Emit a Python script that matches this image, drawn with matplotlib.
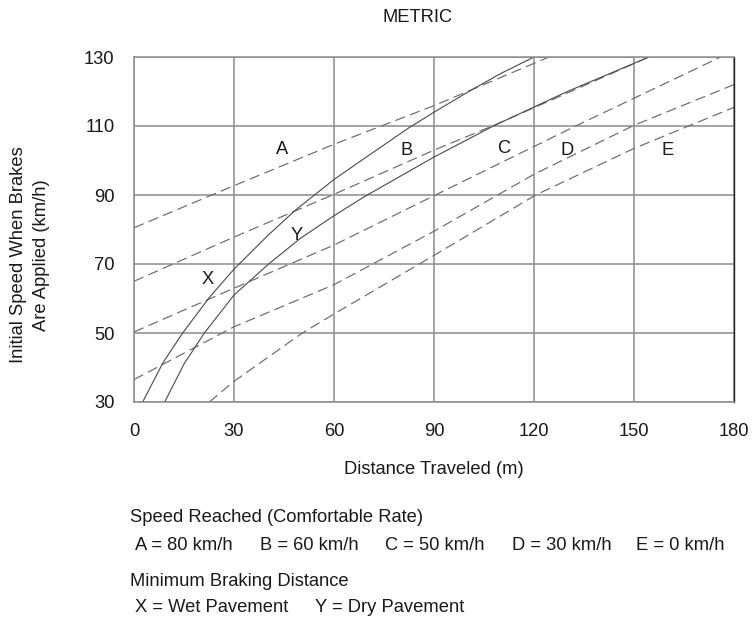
import numpy as np
import matplotlib
matplotlib.use('Agg')
import matplotlib.pyplot as plt

plt.rcParams['font.family'] = ['Liberation Sans', 'DejaVu Sans']
plt.rcParams['lines.scale_dashes'] = False

# dashed lines: speed reached (comfortable rate)
A_d = [0, 30, 60, 90, 124.5]
A_v = [80.5, 92.7, 104.7, 115.9, 130]
B_d = [0, 30, 60, 90, 108, 154.5]
B_v = [65, 77.8, 90.2, 103, 110.2, 130]
C_d = [0, 30, 60, 90, 132.5, 176]
C_v = [50.3, 63, 75.5, 89.8, 110, 130]
D_d = [0, 30, 60, 90, 120, 150, 180]
D_v = [36.5, 51.8, 64, 79.5, 96, 110.2, 122]
E_d = [22.6, 30, 50.5, 60, 90, 120.5, 150, 180]
E_v = [30, 36, 50, 55.5, 72.5, 90, 103.5, 115.4]

# solid curves: minimum braking distance
X_d = [2.6, 8.7, 14.6, 22.6, 30, 40.4, 48.3, 60, 70, 82.5, 90, 100.8, 110, 120]
X_v = [30, 41.4, 50, 60.3, 68.5, 78.5, 85.5, 94.5, 101.2, 109.5, 114, 120.2, 125.2, 130]
Y_d = [9.2, 15, 21.1, 30, 40.4, 50, 60, 69.1, 80, 90, 107.8, 130, 154.5]
Y_v = [30, 41, 50, 61, 70, 77.5, 84, 89.5, 95.5, 101, 110, 120, 130]

# curve letters and where they sit
letters = ['A', 'B', 'C', 'D', 'E', 'X', 'Y']
letter_d = [44.3, 81.7, 111, 130, 160, 22, 48.7]
letter_v = [103.2, 103, 103.5, 103, 103, 65.5, 78.4]

x_ticks = [0, 30, 60, 90, 120, 150, 180]
y_ticks = [30, 50, 70, 90, 110, 130]

speed_title = 'Speed Reached (Comfortable Rate)'
speed_labels = ['A = 80 km/h', 'B = 60 km/h', 'C = 50 km/h', 'D = 30 km/h', 'E = 0 km/h']
brake_title = 'Minimum Braking Distance'
brake_labels = ['X = Wet Pavement', 'Y = Dry Pavement']

W, H = 752, 621
fig = plt.figure(figsize=(W / 100, H / 100), dpi=100)
ax = fig.add_axes([134 / W, 1 - 402 / H, 600 / W, 345 / H])

fs = 13.2
txt_col = '#1a1a1a'
grid_col = '#8c8c8c'

dash_style = dict(color='#6a6a6a', lw=0.85, dashes=[7.5, 3.8])
for d, v in [(A_d, A_v), (B_d, B_v), (C_d, C_v), (D_d, D_v), (E_d, E_v)]:
    ax.plot(d, v, **dash_style)
for d, v in [(X_d, X_v), (Y_d, Y_v)]:
    ax.plot(d, v, color='#4a4a4a', lw=0.8)

for t, d, v in zip(letters, letter_d, letter_v):
    ax.text(d, v, t, fontsize=fs, ha='center', va='center', color=txt_col)

ax.set_xlim(0, 180)
ax.set_ylim(30, 130)
ax.set_xticks(x_ticks)
ax.set_yticks(y_ticks)
ax.tick_params(length=0, labelsize=fs, colors=txt_col)
ax.tick_params(axis='x', pad=15)
ax.tick_params(axis='y', pad=14)
ax.grid(True, color=grid_col, lw=1.1)
for s in ['left', 'top', 'bottom']:
    ax.spines[s].set_color(grid_col)
    ax.spines[s].set_linewidth(1.1)
ax.spines['right'].set_color('#222222')
ax.spines['right'].set_linewidth(1.0)

fig.text(418 / W, 1 - 17 / H, 'METRIC', fontsize=fs, ha='center', va='center', color=txt_col)
fig.text(30 / W, 1 - 255 / H, 'Initial Speed When Brakes\nAre Applied (km/h)', rotation=90,
         fontsize=fs, ha='center', va='center', multialignment='center',
         linespacing=1.4, color=txt_col)
fig.text(434 / W, 1 - 470 / H, 'Distance Traveled (m)', fontsize=fs, ha='center', va='center',
         color=txt_col)

fig.text(130 / W, 1 - 517 / H, speed_title, fontsize=fs, va='center', color=txt_col)
for lab, px in zip(speed_labels, [135, 260, 385, 512, 636]):
    fig.text(px / W, 1 - 545 / H, lab, fontsize=fs, va='center', color=txt_col)
fig.text(130 / W, 1 - 582 / H, brake_title, fontsize=fs, va='center', color=txt_col)
for lab, px in zip(brake_labels, [135, 315]):
    fig.text(px / W, 1 - 608 / H, lab, fontsize=fs, va='center', color=txt_col)

fig.savefig('out.png', dpi=100)
